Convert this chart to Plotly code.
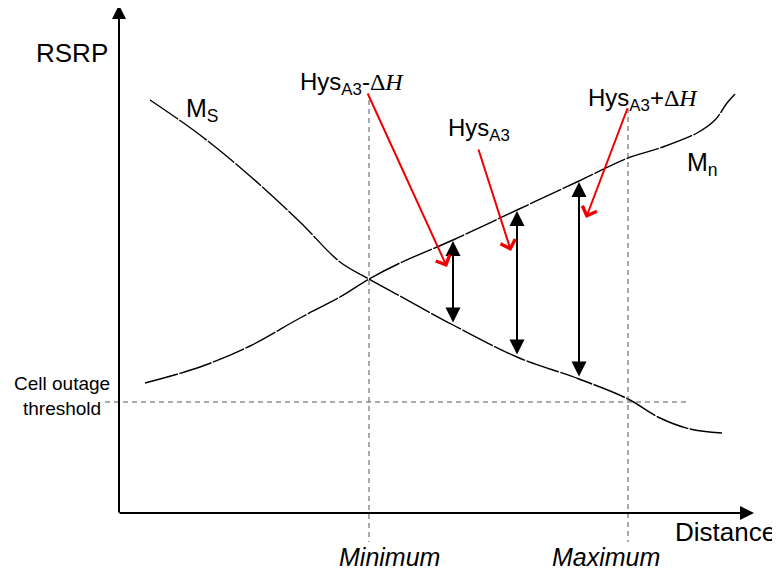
import plotly.graph_objects as go

# Schematic coordinates (distance, RSRP) expressed in the drawing's units
ms_x = [150, 200, 250, 300, 340, 369, 400, 453, 517, 579, 628, 660, 690, 722]
ms_y = [100, 135, 176, 222, 262, 279, 296, 325, 357, 379, 399, 418, 429, 433]
mn_x = [145, 200, 250, 300, 340, 369, 400, 453, 517, 579, 628, 660, 697, 715, 727, 735]
mn_y = [383, 367, 346, 318, 297, 279, 263, 240, 210, 181, 158, 148, 133, 120, 103, 94]

hys_x = [453, 517, 579]
hys_top = [240, 210, 181]
hys_bot = [325, 357, 379]

threshold_y = 402
min_x, max_x = 369, 628

FONT = "Arial, Liberation Sans, sans-serif"
SERIF = "Liberation Serif, DejaVu Serif, serif"
CURVE_DASH = "34px,1.5px"

fig = go.Figure()
fig.add_trace(go.Scatter(x=ms_x, y=ms_y, mode="lines",
                         line=dict(color="black", width=1.4, shape="spline", dash=CURVE_DASH),
                         hoverinfo="skip", showlegend=False))
fig.add_trace(go.Scatter(x=mn_x, y=mn_y, mode="lines",
                         line=dict(color="black", width=1.4, shape="spline", dash=CURVE_DASH),
                         hoverinfo="skip", showlegend=False))

DASH = dict(color="#555", width=1, dash="5px,4px")
shapes = [
    dict(type="line", x0=105, x1=690, y0=threshold_y, y1=threshold_y, line=DASH),
    dict(type="line", x0=min_x, x1=min_x, y0=100, y1=542, line=DASH),
    dict(type="line", x0=max_x, x1=max_x, y0=108, y1=542, line=DASH),
]

ann = []
# axes with arrows
ann.append(dict(x=119, y=5, ax=119, ay=514, xref="x", yref="y", axref="x", ayref="y", showarrow=True,
                arrowhead=2, arrowsize=1.4, arrowwidth=2, arrowcolor="black", text=""))
ann.append(dict(x=754, y=513, ax=118, ay=513, xref="x", yref="y", axref="x", ayref="y", showarrow=True,
                arrowhead=2, arrowsize=1.4, arrowwidth=2, arrowcolor="black", text=""))
# double arrows
for x, t, b in zip(hys_x, hys_top, hys_bot):
    ann.append(dict(x=x, y=t + 1, ax=x, ay=b - 1, xref="x", yref="y", axref="x", ayref="y", showarrow=True,
                    arrowhead=2, startarrowhead=2, arrowside="end+start", arrowsize=1.5, startarrowsize=1.5,
                    arrowwidth=2, arrowcolor="black", text=""))
# red pointer arrows
red = [((367, 92), (447, 267)), ((478, 148), (511, 251)), ((628, 107), (586, 218))]
for (sx, sy), (ex, ey) in red:
    ann.append(dict(x=ex, y=ey, ax=sx, ay=sy, xref="x", yref="y", axref="x", ayref="y", showarrow=True,
                    arrowhead=4, arrowsize=1.5, arrowwidth=2, arrowcolor="#f00000", text=""))


def txt(x, y, s, size=25, xanchor="center", **kw):
    ann.append(dict(x=x, y=y, xref="x", yref="y", text=s, showarrow=False, xanchor=xanchor, yanchor="middle",
                    font=dict(family=FONT, size=size, color="black"), **kw))


dh = f"<span style='font-family:{SERIF}'>Δ<i>H</i></span>"
txt(72, 53, "RSRP", 26)
txt(202, 110, "M<sub>S</sub>", 25)
txt(702, 164, "M<sub>n</sub>", 25)
txt(352, 83, f"Hys<sub>A3</sub>-{dh}", 24)
txt(479, 129, "Hys<sub>A3</sub>", 24)
txt(643, 99, f"Hys<sub>A3</sub>+{dh}", 24)
txt(62, 396, "Cell outage<br>threshold", 19, align="center")
txt(725, 532, "Distance", 26)
txt(389, 557, "<i>Minimum</i>", 25)
txt(606, 557, "<i>Maximum</i>", 25)

# the page body adds an 8px offset; shift the ranges so drawing units equal window pixels
OFF = 8
fig.update_layout(
    width=780, height=574, margin=dict(l=0, r=0, t=0, b=0),
    paper_bgcolor="white", plot_bgcolor="white",
    xaxis=dict(range=[OFF, 780 + OFF], visible=False, fixedrange=True),
    yaxis=dict(range=[574 + OFF, OFF], visible=False, fixedrange=True),
    shapes=shapes, annotations=ann,
)
fig.write_html("out.html")
